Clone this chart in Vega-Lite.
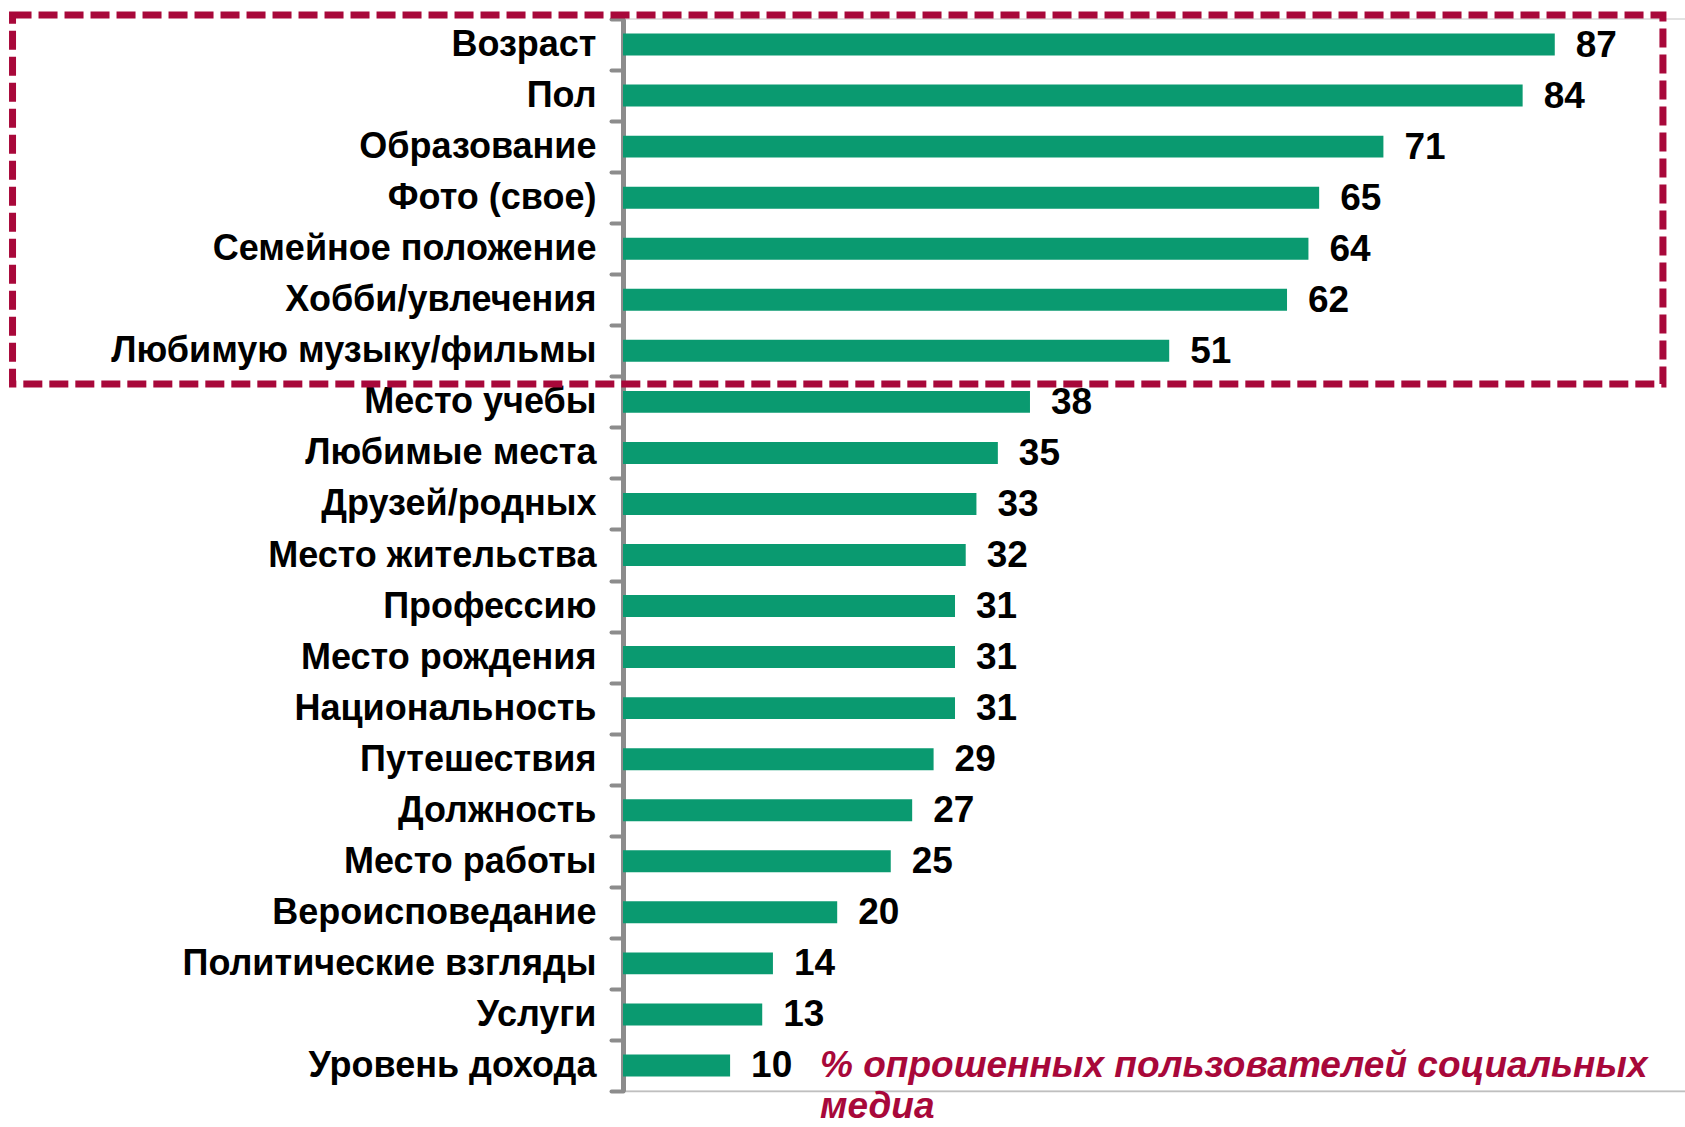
{
  "$schema": "https://vega.github.io/schema/vega-lite/v6.json",
  "autosize": "none",
  "padding": {"left": 623, "top": 19, "right": 0, "bottom": 36},
  "width": 1071,
  "height": 1072,
  "background": "white",
  "config": {
    "view": {"stroke": "#d9d9d9", "strokeWidth": 1.5},
    "font": "Liberation Sans"
  },
  "datasets": {
    "bars": [
      {"category": "Возраст", "value": 87},
      {"category": "Пол", "value": 84},
      {"category": "Образование", "value": 71},
      {"category": "Фото (свое)", "value": 65},
      {"category": "Семейное положение", "value": 64},
      {"category": "Хобби/увлечения", "value": 62},
      {"category": "Любимую музыку/фильмы", "value": 51},
      {"category": "Место учебы", "value": 38},
      {"category": "Любимые места", "value": 35},
      {"category": "Друзей/родных", "value": 33},
      {"category": "Место жительства", "value": 32},
      {"category": "Профессию", "value": 31},
      {"category": "Место рождения", "value": 31},
      {"category": "Национальность", "value": 31},
      {"category": "Путешествия", "value": 29},
      {"category": "Должность", "value": 27},
      {"category": "Место работы", "value": 25},
      {"category": "Вероисповедание", "value": 20},
      {"category": "Политические взгляды", "value": 14},
      {"category": "Услуги ", "value": 13},
      {"category": "Уровень дохода", "value": 10}
    ],
    "highlight": [
      {"x1": -57, "x2": 97.1, "top": "Возраст", "bottom": "Любимую музыку/фильмы"}
    ],
    "note": [
      {"x": 18.4, "category": "Уровень дохода", "text": "% опрошенных пользователей социальных|медиа"}
    ]
  },
  "layer": [
    {
      "data": {"name": "bars"},
      "mark": {"type": "bar", "color": "#0A9A70", "height": {"band": 0.43}},
      "encoding": {
        "y": {
          "field": "category", "type": "nominal", "sort": null,
          "scale": {"paddingInner": 0, "paddingOuter": 0},
          "axis": {
            "title": null,
            "domainColor": "#8c8c8c", "domainWidth": 5,
            "tickColor": "#8c8c8c", "tickWidth": 4, "tickSize": 12, "tickCap": "round",
            "tickBand": "extent",
            "labelFont": "Liberation Sans", "labelFontSize": 36, "labelFontWeight": "bold",
            "labelColor": "#000000", "labelPadding": 15, "labelLimit": 700
          }
        },
        "x": {
          "field": "value", "type": "quantitative",
          "scale": {"domain": [0, 100], "nice": false},
          "axis": {
            "title": null, "labels": false, "ticks": false, "grid": false,
            "domainColor": "#bfbfbf", "domainWidth": 1.5
          }
        }
      }
    },
    {
      "data": {"name": "bars"},
      "mark": {"type": "text", "align": "left", "baseline": "middle", "dx": 21, "dy": 1,
               "font": "Liberation Sans", "fontSize": 37, "fontWeight": "bold", "color": "#000000"},
      "encoding": {
        "y": {"field": "category", "type": "nominal", "sort": null},
        "x": {"field": "value", "type": "quantitative"},
        "text": {"field": "value", "type": "quantitative"}
      }
    },
    {
      "data": {"name": "note"},
      "mark": {"type": "text", "align": "left", "baseline": "middle", "lineBreak": "|", "lineHeight": 41, "dy": 1,
               "font": "Liberation Sans", "fontSize": 37, "fontWeight": "bold", "fontStyle": "italic", "color": "#A8083A"},
      "encoding": {
        "y": {"field": "category", "type": "nominal", "sort": null},
        "x": {"field": "x", "type": "quantitative"},
        "text": {"field": "text", "type": "nominal"}
      }
    },
    {
      "data": {"name": "highlight"},
      "mark": {"type": "rect", "fill": null, "fillOpacity": 0, "stroke": "#A8083A", "strokeWidth": 7, "strokeDash": [19, 7]},
      "encoding": {
        "x": {"field": "x1", "type": "quantitative"},
        "x2": {"field": "x2"},
        "y": {"field": "top", "type": "nominal", "sort": null, "bandPosition": -0.078},
        "y2": {"field": "bottom", "bandPosition": 1.15}
      }
    }
  ]
}
